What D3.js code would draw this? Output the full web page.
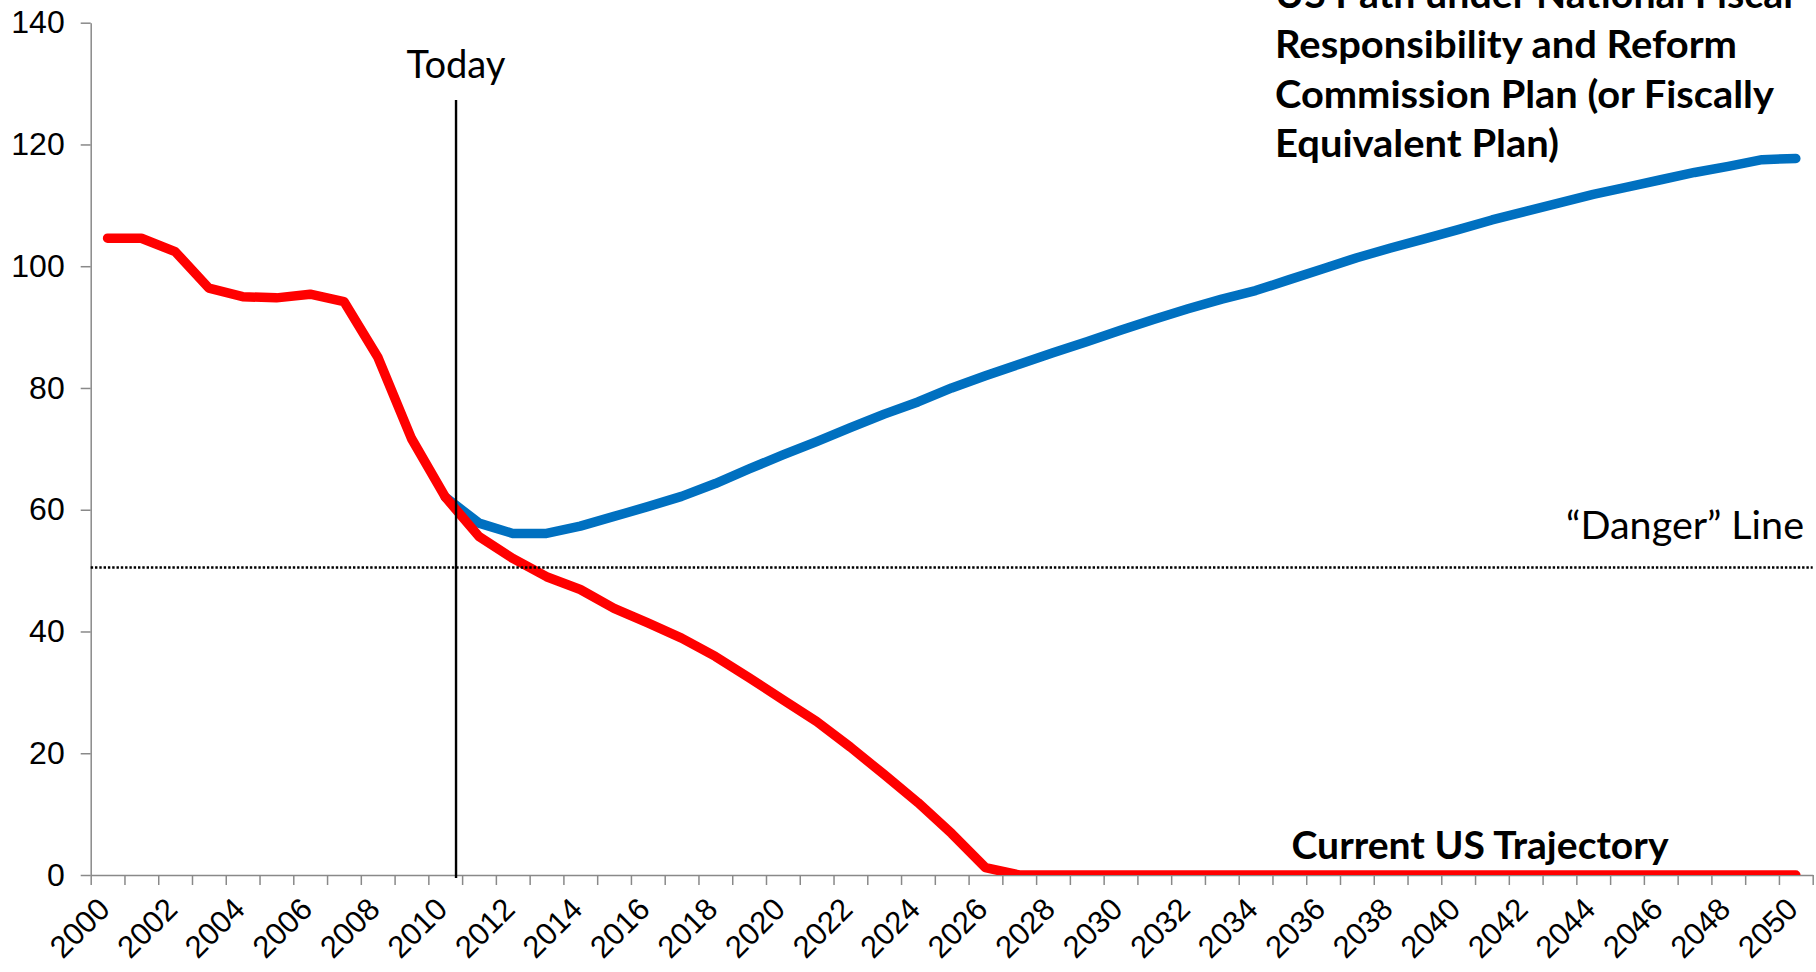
<!DOCTYPE html>
<html>
<head>
<meta charset="utf-8">
<script src="https://cdn.jsdelivr.net/npm/d3@7"></script>
<style>
  body { margin: 0; background: #fff; }
  svg { display: block; }
</style>
</head>
<body>
<svg id="chart" width="1816" height="972"></svg>
<script>
// Debt-to-GDP style trajectories, 2000–2050
const years = d3.range(2000, 2051);

const currentTrajectory = [
  104.6, 104.6, 102.4, 96.4, 95.0, 94.8, 95.4, 94.2, 85.1, 71.7,
  62.1, 55.6, 52.0, 49.0, 46.9, 43.8, 41.4, 38.9, 35.9, 32.4,
  28.8, 25.2, 21.0, 16.5, 11.9, 6.8, 1.2, 0, 0, 0,
  0, 0, 0, 0, 0, 0, 0, 0, 0, 0,
  0, 0, 0, 0, 0, 0, 0, 0, 0, 0,
  0
];

const commissionPlan = [
  null, null, null, null, null, null, null, null, null, null,
  62.1, 57.8, 56.1, 56.1, 57.3, 58.9, 60.5, 62.2, 64.3, 66.7,
  69.0, 71.2, 73.5, 75.7, 77.7, 80.0, 82.0, 83.9, 85.8, 87.6,
  89.5, 91.3, 93.0, 94.6, 96.0, 97.8, 99.6, 101.4, 103.0, 104.5,
  106.0, 107.6, 109.0, 110.4, 111.8, 113.0, 114.2, 115.4, 116.4, 117.5,
  117.7
];

const yTickValues = [0, 20, 40, 60, 80, 100, 120, 140];
const xLabelYears = d3.range(2000, 2051, 2);

const dangerLevel = 50.5;
const todayYear = 2010.32;
const todayTop = 127.3;

const titleLines = [
  "US Path under National Fiscal",
  "Responsibility and Reform",
  "Commission Plan (or Fiscally",
  "Equivalent Plan)"
];

// ---- layout ----
const plot = { left: 90.7, right: 1812.7, top: 22.7, bottom: 875 };
const svg = d3.select("#chart");

const x = d3.scaleLinear().domain([1999.5, 2050.5]).range([plot.left, plot.right]);
const y = d3.scaleLinear().domain([0, 140]).range([plot.bottom, plot.top]);

const axisColor = "#898989";
const labelFont = "'Liberation Sans', Arial, sans-serif";
const textFont = "Lato, 'Open Sans', sans-serif";

// y axis
const yAxis = svg.append("g")
  .attr("transform", `translate(${plot.left},0)`)
  .call(d3.axisLeft(y).tickValues(yTickValues).tickSize(10).tickSizeOuter(0).tickPadding(16));
yAxis.select(".domain").attr("stroke", axisColor).attr("stroke-width", 1.5);
yAxis.selectAll(".tick line").attr("stroke", axisColor).attr("stroke-width", 1.5);
yAxis.selectAll(".tick text")
  .attr("font-family", labelFont).attr("font-size", 32).attr("fill", "#000");

// x axis: tick marks sit between the yearly categories
const boundaries = d3.range(1999.5, 2051, 1);
const xAxis = svg.append("g")
  .attr("transform", `translate(0,${plot.bottom})`)
  .call(d3.axisBottom(x).tickValues(boundaries).tickSize(10).tickSizeOuter(0).tickFormat(""));
xAxis.select(".domain").attr("stroke", axisColor).attr("stroke-width", 1.5);
xAxis.selectAll(".tick line").attr("stroke", axisColor).attr("stroke-width", 1.5);

svg.append("g").selectAll("text")
  .data(xLabelYears)
  .join("text")
  .attr("transform", d => `translate(${x(d) + 4},${plot.bottom + 36}) rotate(-45)`)
  .attr("text-anchor", "end")
  .attr("font-family", labelFont)
  .attr("font-size", 31)
  .attr("fill", "#000")
  .text(d => d);

// series lines, clipped to the plot area
svg.append("clipPath").attr("id", "plotClip")
  .append("rect")
  .attr("x", plot.left).attr("y", 0)
  .attr("width", plot.right - plot.left).attr("height", plot.bottom);

const line = d3.line()
  .defined(d => d.v != null)
  .x(d => x(d.year))
  .y(d => y(d.v));

const lines = svg.append("g").attr("clip-path", "url(#plotClip)");

lines.append("path")
  .datum(years.map((yr, i) => ({ year: yr, v: commissionPlan[i] })))
  .attr("d", line)
  .attr("fill", "none")
  .attr("stroke", "#0070C0")
  .attr("stroke-width", 9.5)
  .attr("stroke-linejoin", "round")
  .attr("stroke-linecap", "round");

lines.append("path")
  .datum(years.map((yr, i) => ({ year: yr, v: currentTrajectory[i] })))
  .attr("d", line)
  .attr("fill", "none")
  .attr("stroke", "#FF0000")
  .attr("stroke-width", 9.5)
  .attr("stroke-linejoin", "round")
  .attr("stroke-linecap", "round");

// "Danger" threshold
svg.append("line")
  .attr("x1", x(1999.5)).attr("x2", x(2050.5))
  .attr("y1", y(dangerLevel)).attr("y2", y(dangerLevel))
  .attr("stroke", "#000")
  .attr("stroke-width", 2.6)
  .attr("stroke-dasharray", "2.4,1.9");

// Today marker
svg.append("line")
  .attr("x1", x(todayYear)).attr("x2", x(todayYear))
  .attr("y1", y(todayTop)).attr("y2", y(0) + 3)
  .attr("stroke", "#000")
  .attr("stroke-width", 2.4);

// annotations
svg.append("text")
  .attr("x", x(todayYear)).attr("y", 78)
  .attr("text-anchor", "middle")
  .attr("font-family", textFont).attr("font-size", 38)
  .attr("textLength", 99).attr("lengthAdjust", "spacingAndGlyphs")
  .text("Today");

svg.append("text")
  .attr("x", 1804).attr("y", 539)
  .attr("text-anchor", "end")
  .attr("font-family", textFont).attr("font-size", 38)
  .attr("textLength", 238).attr("lengthAdjust", "spacingAndGlyphs")
  .text("\u201CDanger\u201D Line");

svg.append("text")
  .attr("x", 1291.5).attr("y", 859)
  .attr("font-family", textFont).attr("font-size", 38).attr("font-weight", "bold")
  .attr("textLength", 377).attr("lengthAdjust", "spacingAndGlyphs")
  .text("Current US Trajectory");

const titleWidths = [518, 462, 499, 284];
svg.append("g").selectAll("text")
  .data(titleLines)
  .join("text")
  .attr("x", 1275)
  .attr("y", (d, i) => 8 + i * 49.8)
  .attr("font-family", textFont).attr("font-size", 38).attr("font-weight", "bold")
  .attr("textLength", (d, i) => titleWidths[i]).attr("lengthAdjust", "spacingAndGlyphs")
  .text(d => d);
</script>
</body>
</html>
